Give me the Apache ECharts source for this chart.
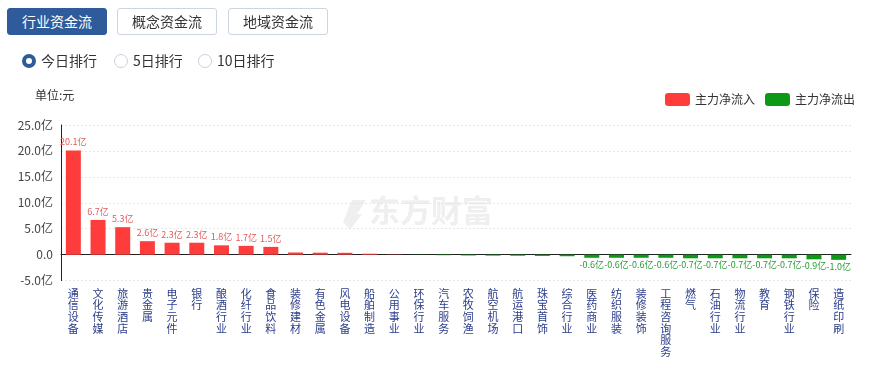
<!DOCTYPE html>
<html><head><meta charset="utf-8">
<script src="https://cdn.jsdelivr.net/npm/echarts@6/dist/echarts.min.js"></script>
<style>
html,body{margin:0;padding:0;background:#fff;font-family:"Noto Sans CJK SC","Microsoft YaHei",sans-serif;}
#wrap{position:relative;width:872px;height:368px;overflow:hidden;}
#chart{position:absolute;left:0;top:0;width:872px;height:368px;}
.btn{position:absolute;top:8px;height:27px;width:100px;box-sizing:border-box;border:1px solid #ccd5e0;border-radius:3px;font-size:14px;line-height:25px;text-align:center;color:#333;background:#fff;z-index:2;}
.btn.on{background:#2f5b9b;border-color:#2f5b9b;color:#fff;}
.radio{position:absolute;top:54px;height:14px;font-size:14px;line-height:14px;color:#333;z-index:2;}
.radio i{position:absolute;left:0;top:0;width:14px;height:14px;box-sizing:border-box;border-radius:50%;border:1px solid #c8d0da;}
.radio.on i{border:4px solid #2f5b9b;}
.radio span{position:absolute;left:19px;top:-1px;white-space:nowrap;}
</style></head>
<body><div id="wrap">
<div id="chart"></div>
<div class="btn on" style="left:7px;">行业资金流</div>
<div class="btn" style="left:117px;">概念资金流</div>
<div class="btn" style="left:228px;">地域资金流</div>
<div class="radio on" style="left:22px;"><i></i><span>今日排行</span></div>
<div class="radio" style="left:114px;"><i></i><span>5日排行</span></div>
<div class="radio" style="left:198px;"><i></i><span>10日排行</span></div>
</div>
<script>
var categories = ['通信设备','文化传媒','旅游酒店','贵金属','电子元件','银行','酿酒行业','化纤行业','食品饮料','装修建材','有色金属','风电设备','船舶制造','公用事业','环保行业','汽车服务','农牧饲渔','航空机场','航运港口','珠宝首饰','综合行业','医药商业','纺织服装','装修装饰','工程咨询服务','燃气','石油行业','物流行业','教育','钢铁行业','保险','造纸印刷'];
var netFlow = [20.1,6.7,5.3,2.6,2.3,2.3,1.8,1.7,1.5,0.42,0.38,0.36,0.18,0.05,-0.03,-0.1,-0.15,-0.18,-0.2,-0.24,-0.3,-0.6,-0.6,-0.6,-0.6,-0.7,-0.7,-0.7,-0.7,-0.7,-0.9,-1.0];
var yTicks = [-5,0,5,10,15,20,25];
var seriesNames = ['主力净流入','主力净流出'];

var inflow = netFlow.map(function(v){ return v >= 0 ? {value:v, label:{show: v >= 0.5}} : '-'; });
var outflow = netFlow.map(function(v){ return v < 0 ? {value:v, label:{show: v <= -0.5}} : '-'; });

var chart = echarts.init(document.getElementById('chart'), null, {renderer:'canvas'});
var font = '"Noto Sans CJK SC","Microsoft YaHei",sans-serif';
chart.setOption({
  animation:false,
  textStyle:{fontFamily:font},
  legend:{
    right:12, top:88, itemWidth:25, itemHeight:13, itemGap:10,
    textStyle:{fontSize:12,color:'#333',fontFamily:font},
    data:seriesNames
  },
  graphic:[
    {type:'text', left:35, top:89, style:{text:'单位:元', font:'12px '+font, fill:'#333'}},
    {type:'polygon', z:-1, shape:{points:[[343,222],[352,200],[366,200],[357,214],[362,214],[350,230]]}, style:{fill:'#efefef'}},
    {type:'text', z:-1, left:369, top:195, style:{text:'东方财富', font:'bold 31px '+font, fill:'#efefef'}}
  ],
  grid:{left:61, right:21, top:125, bottom:87.4, containLabel:false},
  xAxis:[{
    type:'category', data:categories, position:'bottom',
    axisLine:{show:false, onZero:false}, axisTick:{show:false},
    axisLabel:{interval:0, margin:7, color:'#2a3c8a', fontSize:11, lineHeight:11.7, verticalAlign:'top',
      formatter:function(s){ return s.split('').join('\n'); }}
  },{
    type:'category', data:categories, position:'top',
    axisLine:{show:true, onZero:true, lineStyle:{color:'#222',width:1}},
    axisTick:{show:false}, axisLabel:{show:false}
  }],
  yAxis:{
    type:'value', min:yTicks[0], max:yTicks[yTicks.length-1], interval:5,
    axisLine:{show:true, lineStyle:{color:'#222'}}, axisTick:{show:false},
    axisLabel:{color:'#444', fontSize:12, margin:8, formatter:function(v){ return v===0 ? '0.0' : v.toFixed(1)+'亿'; }},
    splitLine:{show:true, lineStyle:{color:'#e6e6e6', type:[2,2]}}
  },
  series:[{
    name:seriesNames[0], type:'bar', stack:'s', barWidth:15, data:inflow,
    itemStyle:{color:'#ff3c3c'},
    label:{position:'top', distance:4, color:'#e35b5b', fontSize:9, formatter:function(p){return p.value.toFixed(1)+'亿';}}
  },{
    name:seriesNames[1], type:'bar', stack:'s', barWidth:15, data:outflow,
    itemStyle:{color:'#0c9a16'},
    label:{position:'bottom', distance:2, color:'#2a9a34', fontSize:9, formatter:function(p){return p.value.toFixed(1)+'亿';}}
  }]
});
</script></body></html>
